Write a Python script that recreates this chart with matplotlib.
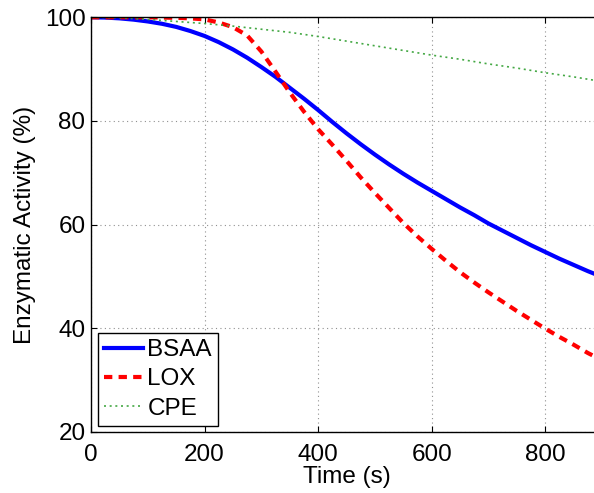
import numpy as np
import matplotlib
matplotlib.use("Agg")
import matplotlib.pyplot as plt

# values (time in s, activity in %)
time_s = [0, 25, 50, 75, 100, 125, 150, 175, 200, 225, 250, 275, 300,
          325, 350, 375, 400, 425, 450, 475, 500, 525, 550, 575, 600,
          625, 650, 675, 700, 725, 750, 775, 800, 825, 850, 875, 900]
bsaa = [100, 99.95, 99.8, 99.55, 99.2, 98.75, 98.15, 97.35, 96.4, 95.2,
        93.8, 92.2, 90.4, 88.5, 86.4, 84.3, 82.1, 79.8, 77.6, 75.5,
        73.5, 71.6, 69.8, 68.1, 66.5, 64.9, 63.3, 61.8, 60.2, 58.8,
        57.4, 56.0, 54.7, 53.4, 52.2, 51.0, 49.9]
lox = [100, 100, 100, 100, 100, 99.95, 99.9, 99.8, 99.6, 99.0,
       98.1, 96.5, 93.4, 89.5, 85.5, 81.8, 78.4, 75.4, 72.3, 69.1,
       66.1, 63.2, 60.3, 57.7, 55.3, 53.0, 50.8, 48.8, 46.9, 45.1,
       43.3, 41.6, 39.9, 38.3, 36.8, 35.2, 33.8]
cpe = [100, 99.97, 99.9, 99.75, 99.6, 99.4, 99.2, 99.0, 98.8, 98.55,
       98.3, 98.0, 97.7, 97.4, 97.1, 96.7, 96.3, 95.85, 95.4, 94.95,
       94.5, 94.05, 93.6, 93.15, 92.7, 92.3, 91.9, 91.45, 91.0, 90.6,
       90.2, 89.75, 89.3, 88.9, 88.5, 88.05, 87.6]

xticks = [0, 200, 400, 600, 800]
yticks = [20, 40, 60, 80, 100]

plt.rcParams['font.family'] = ['Liberation Sans', 'DejaVu Sans']
plt.rcParams['font.size'] = 17.5

fig = plt.figure(figsize=(5.94, 4.93), dpi=100)
ax = fig.add_axes([0.1532, 0.1243, 0.8603, 0.8406])

ax.plot(time_s, bsaa, color='#0000ff', lw=3, label='BSAA')
ax.plot(time_s, lox, color='#ff0000', lw=3, dashes=(2.0, 1.5), label='LOX')
ax.plot(time_s, cpe, color='#44a844', lw=1.2, dashes=(1.2, 2.2), label='CPE')

ax.set_xlim(0, 900)
ax.set_ylim(20, 100)
ax.set_xticks(xticks)
ax.set_yticks(yticks)
ax.grid(True, color='#909090', linestyle=(0, (1, 3)), lw=0.8)
ax.tick_params(direction='in', length=4, width=0.8, top=True, right=True, pad=4)
ax.tick_params(axis='x', pad=9)
for s in ax.spines.values():
    s.set_linewidth(1.0)

ax.set_xlabel('Time (s)', labelpad=0)
ax.set_ylabel('Enzymatic Activity (%)', labelpad=6)

leg = ax.legend(loc='lower left', bbox_to_anchor=(0.013, 0.0145), borderaxespad=0,
                fancybox=False, edgecolor='black', framealpha=1,
                handlelength=1.6, handletextpad=0.2, borderpad=0.25, labelspacing=0.3)
leg.get_frame().set_linewidth(1.0)

fig.savefig('out.png', dpi=100)
